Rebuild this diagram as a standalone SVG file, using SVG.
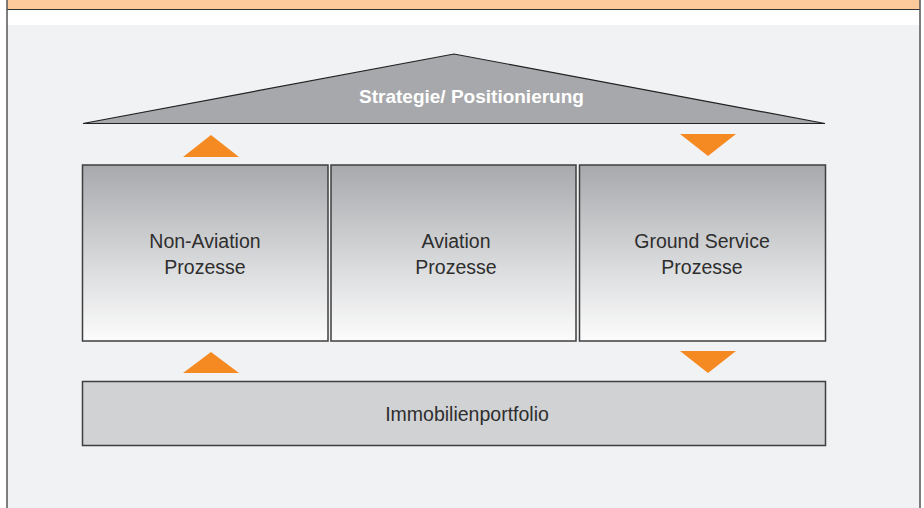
<svg xmlns="http://www.w3.org/2000/svg" width="924" height="508" viewBox="0 0 924 508">
<defs>
<style>
.lbl{font-family:"Liberation Sans",Arial,sans-serif;font-size:19.5px;fill:#2e2e2e;text-anchor:middle}
.roof{font-family:"Liberation Sans",Arial,sans-serif;font-size:19px;font-weight:bold;fill:#ffffff;text-anchor:middle}
.box{stroke:#3f3f3f;stroke-width:1.5;fill:url(#g)}
.tri{fill:#F58A23}
</style>
<linearGradient id="g" x1="0" y1="0" x2="0" y2="1">
<stop offset="0" stop-color="#A8A9AC"/>
<stop offset="0.6" stop-color="#DCDDDF"/>
<stop offset="1" stop-color="#FCFCFC"/>
</linearGradient>
</defs>
<rect x="0" y="0" width="924" height="508" fill="#ffffff"/>
<rect x="7" y="25" width="913" height="483" fill="#F1F2F4"/>
<rect x="7" y="0" width="913" height="9.5" fill="#FFCA9B"/>
<line x1="7" y1="9.5" x2="920" y2="9.5" stroke="#333" stroke-width="1.2"/>
<line x1="7" y1="0" x2="7" y2="508" stroke="#555" stroke-width="1.5"/>
<line x1="920" y1="0" x2="920" y2="508" stroke="#555" stroke-width="1.5"/>
<g id="strategie">
<polygon points="83,123.5 454,54 825,123.5" fill="#A7A8AB" stroke="#222" stroke-width="1.2"/>
<text class="roof" x="471.5" y="103">Strategie/ Positionierung</text>
</g>
<g id="non-aviation">
<rect class="box" x="82.5" y="165" width="245.5" height="176"/>
<text class="lbl" x="205" y="248">Non-Aviation</text>
<text class="lbl" x="205" y="274">Prozesse</text>
</g>
<g id="aviation">
<rect class="box" x="331" y="165" width="245" height="176"/>
<text class="lbl" x="456" y="248">Aviation</text>
<text class="lbl" x="456" y="274">Prozesse</text>
</g>
<g id="ground-service">
<rect class="box" x="579.5" y="165" width="246" height="176"/>
<text class="lbl" x="702" y="248">Ground Service</text>
<text class="lbl" x="702" y="274">Prozesse</text>
</g>
<g id="immobilienportfolio">
<rect x="82.5" y="381.5" width="743" height="64" fill="#D1D2D4" stroke="#3f3f3f" stroke-width="1.5"/>
<text class="lbl" x="467" y="421">Immobilienportfolio</text>
</g>
<g id="connectors">
<polygon class="tri" points="183,157 239,157 211,135"/>
<polygon class="tri" points="680,134 736,134 708,156"/>
<polygon class="tri" points="183,373 239,373 211,352"/>
<polygon class="tri" points="680,351 736,351 708,373"/>
</g>
</svg>
